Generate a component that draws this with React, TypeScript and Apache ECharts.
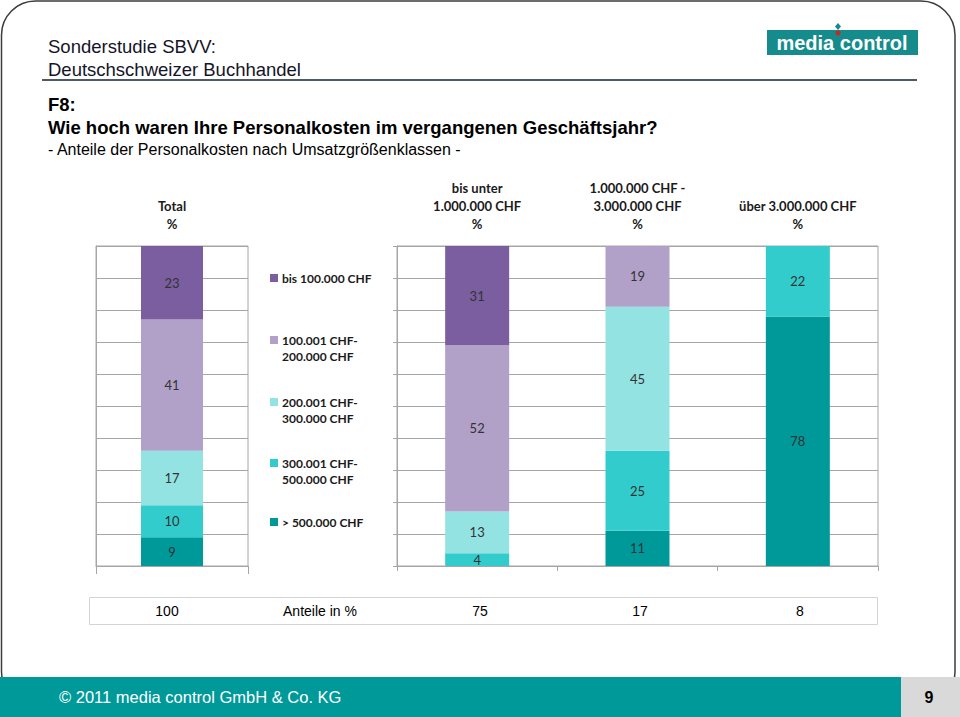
import React, { useEffect, useRef } from 'react';
import * as echarts from 'echarts';

// ---- data ----
const segments = [
  'bis 100.000 CHF',
  '100.001 CHF-\n200.000 CHF',
  '200.001 CHF-\n300.000 CHF',
  '300.001 CHF-\n500.000 CHF',
  '> 500.000 CHF',
];
const segmentColors = ['#7B5E9F', '#B1A0C7', '#93E3E3', '#33CCCC', '#009999'];

const totalCategories = ['Total\n%'];
const totalValues = [23, 41, 17, 10, 9]; // one per segment

const groupCategories = [
  'bis unter\n1.000.000 CHF\n%',
  '1.000.000 CHF -\n3.000.000 CHF\n%',
  'über 3.000.000 CHF\n%',
];
const bis100 = [31, 0, 0];
const s100to200 = [52, 19, 0];
const s200to300 = [13, 45, 0];
const s300to500 = [4, 25, 22];
const over500 = [0, 11, 78];
const groupValues = [bis100, s100to200, s200to300, s300to500, over500];

const tableCells = ['100', 'Anteile in %', '75', '17', '8'];

const titleLines = ['Sonderstudie SBVV:', 'Deutschschweizer Buchhandel'];
const questionId = 'F8:';
const question = 'Wie hoch waren Ihre Personalkosten im vergangenen Geschäftsjahr?';
const subtitle = '- Anteile der Personalkosten nach Umsatzgrößenklassen -';
const footerText = '© 2011 media control GmbH & Co. KG';
const pageNumber = '9';

const NARROW = "'Liberation Sans Narrow', 'Arial Narrow', Lato, sans-serif";
const ARIAL = "'Liberation Sans', Arial, sans-serif";
const GRID = '#A6A6A6';

export default function App() {
  const ref = useRef<HTMLDivElement>(null);

  useEffect(() => {
    document.body.style.margin = '0';
    if (!ref.current) return;
    const chart = echarts.init(ref.current, null, { renderer: 'svg' });

    const labelCfg = {
      show: true,
      position: 'inside',
      color: '#333',
      fontSize: 13,
      fontFamily: 'Lato, sans-serif',
      formatter: (p: any) => (p.value > 0 ? String(p.value) : ''),
    };

    const series: any[] = [];
    for (let i = segments.length - 1; i >= 0; i--) {
      series.push({
        name: segments[i],
        type: 'bar',
        xAxisIndex: 0,
        yAxisIndex: 0,
        stack: 'total',
        barWidth: 62,
        data: [totalValues[i]],
        itemStyle: { color: segmentColors[i] },
        label: labelCfg,
      });
      series.push({
        name: segments[i],
        type: 'bar',
        xAxisIndex: 1,
        yAxisIndex: 1,
        stack: 'groups',
        barWidth: 64,
        data: groupValues[i],
        itemStyle: { color: segmentColors[i] },
        label: labelCfg,
      });
    }

    const headerLabel = {
      show: true,
      fontFamily: NARROW,
      fontWeight: 'bold',
      fontSize: 13,
      color: '#1a1a1a',
      lineHeight: 18,
      margin: 13,
    };

    const legendItemY = [278, 340, 402, 463, 522];
    const legendGraphics: any[] = [];
    segments.forEach((s, i) => {
      legendGraphics.push({
        type: 'rect',
        shape: { x: 270, y: legendItemY[i] - 4, width: 8, height: 8 },
        style: { fill: segmentColors[i] },
      });
      legendGraphics.push({
        type: 'text',
        x: 282,
        y: legendItemY[i] - 8,
        style: {
          text: s,
          fontFamily: NARROW,
          fontWeight: 'bold',
          fontSize: 12,
          lineHeight: 16,
          fill: '#1a1a1a',
          textVerticalAlign: 'top',
        },
      });
    });

    const tableX = [167, 320, 480, 640, 800];

    chart.setOption({
      animation: false,
      backgroundColor: '#ffffff',
      grid: [
        { left: 96, top: 246, width: 152, height: 320, show: true, borderColor: GRID, borderWidth: 1 },
        { left: 397, top: 246, width: 481, height: 320, show: true, borderColor: GRID, borderWidth: 1 },
      ],
      xAxis: [
        {
          type: 'category', gridIndex: 0, data: totalCategories, position: 'bottom',
          axisLine: { show: true, lineStyle: { color: GRID } },
          axisTick: { show: true, length: 8, lineStyle: { color: GRID } },
          axisLabel: { show: false },
        },
        {
          type: 'category', gridIndex: 1, data: groupCategories, position: 'bottom',
          axisLine: { show: true, lineStyle: { color: GRID } },
          axisTick: { show: true, length: 5, lineStyle: { color: GRID } },
          axisLabel: { show: false },
        },
        {
          type: 'category', gridIndex: 0, data: totalCategories, position: 'top',
          axisLine: { show: false }, axisTick: { show: false },
          axisLabel: headerLabel,
        },
        {
          type: 'category', gridIndex: 1, data: groupCategories, position: 'top',
          axisLine: { show: false }, axisTick: { show: false },
          axisLabel: headerLabel,
        },
      ],
      yAxis: [
        {
          type: 'value', gridIndex: 0, min: 0, max: 100, interval: 10,
          axisLine: { show: true, lineStyle: { color: GRID } },
          axisTick: { show: false },
          axisLabel: { show: false },
          splitLine: { show: true, lineStyle: { color: GRID, width: 1 } },
        },
        {
          type: 'value', gridIndex: 1, min: 0, max: 100, interval: 10,
          axisLine: { show: true, lineStyle: { color: GRID } },
          axisTick: { show: true, length: 4, lineStyle: { color: GRID } },
          axisLabel: { show: false },
          splitLine: { show: true, lineStyle: { color: GRID, width: 1 } },
        },
      ],
      series,
      graphic: [
        {
          type: 'rect', z: -10,
          shape: { x: 1.5, y: 1, width: 953.5, height: 705, r: 34 },
          style: { fill: 'none', stroke: '#3c3c3c', lineWidth: 1.5 },
        },
        {
          type: 'text', x: 48, y: 35,
          style: { text: titleLines.join('\n'), fontFamily: ARIAL, fontSize: 18.5, lineHeight: 23, fill: '#141428' },
        },
        {
          type: 'line',
          shape: { x1: 42, y1: 80, x2: 917, y2: 80 },
          style: { stroke: '#4d5b69', lineWidth: 2 },
        },
        {
          type: 'text', x: 48, y: 95,
          style: { text: questionId, fontFamily: ARIAL, fontSize: 18.5, fontWeight: 'bold', fill: '#000' },
        },
        {
          type: 'text', x: 48, y: 118,
          style: { text: question, fontFamily: ARIAL, fontSize: 18.5, fontWeight: 'bold', fill: '#000' },
        },
        {
          type: 'text', x: 48, y: 141,
          style: { text: subtitle, fontFamily: ARIAL, fontSize: 16, fill: '#000' },
        },
        // logo
        {
          type: 'rect',
          shape: { x: 767, y: 30, width: 151, height: 25 },
          style: { fill: '#168B8B' },
        },
        {
          type: 'text', x: 842, y: 43,
          style: {
            text: 'media control', fontFamily: ARIAL, fontSize: 20, fontWeight: 'bold',
            fill: '#ffffff', textAlign: 'center', textVerticalAlign: 'middle',
          },
        },
        {
          type: 'polygon',
          shape: { points: [[838, 23], [841, 26.5], [838, 30], [835, 26.5]] },
          style: { fill: '#168B8B' },
        },
        {
          type: 'circle',
          shape: { cx: 838, cy: 33, r: 2.5 },
          style: { fill: '#C62828' },
        },
        ...legendGraphics,
        // table row
        {
          type: 'rect',
          shape: { x: 89.5, y: 597.5, width: 788, height: 27 },
          style: { fill: 'none', stroke: '#d4d4d4', lineWidth: 1 },
        },
        ...tableCells.map((t, i) => ({
          type: 'text', x: tableX[i], y: 611,
          style: {
            text: t, fontFamily: ARIAL, fontSize: 14, fill: '#000',
            textAlign: 'center', textVerticalAlign: 'middle',
          },
        })),
        // footer
        {
          type: 'rect',
          shape: { x: 0, y: 677, width: 901, height: 40 },
          style: { fill: '#009999' },
        },
        {
          type: 'rect',
          shape: { x: 901, y: 677, width: 59, height: 40 },
          style: { fill: '#D9D9D9' },
        },
        {
          type: 'text', x: 59, y: 697,
          style: {
            text: footerText, fontFamily: ARIAL, fontSize: 16.5, fill: '#ffffff',
            textVerticalAlign: 'middle',
          },
        },
        {
          type: 'text', x: 929, y: 697,
          style: {
            text: pageNumber, fontFamily: ARIAL, fontSize: 16, fontWeight: 'bold', fill: '#000',
            textAlign: 'center', textVerticalAlign: 'middle',
          },
        },
      ],
    });

    return () => chart.dispose();
  }, []);

  return <div ref={ref} style={{ width: 960, height: 717 }} />;
}
